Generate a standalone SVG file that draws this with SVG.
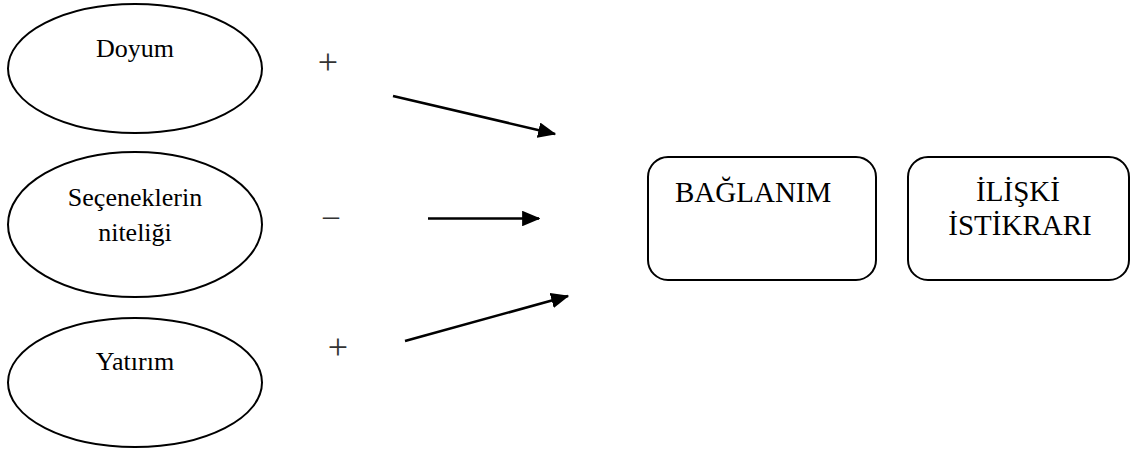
<svg xmlns="http://www.w3.org/2000/svg" width="1134" height="450" viewBox="0 0 1134 450">
<style>
.shape{fill:#fff;stroke:#000;stroke-width:2}
.t{font-family:"Liberation Serif","Times New Roman",serif;fill:#000}
.e{font-size:26px;text-anchor:middle}
.b{font-size:29px}
.sign{font-family:"Liberation Serif","Times New Roman",serif;fill:#333;text-anchor:middle}
.c{stroke:#000;stroke-width:2.6;fill:none;marker-end:url(#ah)}
</style>
<defs>
<marker id="ah" markerWidth="7" markerHeight="6" refX="6.5" refY="3" orient="auto" markerUnits="strokeWidth">
<path d="M0,0 L7,3 L0,6 Z" fill="#000"/>
</marker>
</defs>
<rect width="1134" height="450" fill="#fff"/>
<g id="doyum">
<ellipse class="shape" cx="135" cy="68.5" rx="127" ry="64.5"/>
<text class="t e" x="135" y="57">Doyum</text>
</g>
<g id="secenekler">
<ellipse class="shape" cx="135" cy="224.5" rx="127" ry="72.5"/>
<text class="t e" x="135" y="206">Seçeneklerin</text>
<text class="t e" x="135" y="241">niteliği</text>
</g>
<g id="yatirim">
<ellipse class="shape" cx="135" cy="382.5" rx="127" ry="64.5"/>
<text class="t e" x="135" y="370">Yatırım</text>
</g>
<g id="baglanim">
<rect class="shape" x="648" y="157" width="228" height="123" rx="20" ry="20"/>
<text class="t b" x="675" y="202">BAĞLANIM</text>
</g>
<g id="iliski">
<rect class="shape" x="908" y="157" width="221" height="123" rx="20" ry="20"/>
<text class="t b" x="1018" y="201" text-anchor="middle">İLİŞKİ</text>
<text class="t b" x="1020" y="235" text-anchor="middle">İSTİKRARI</text>
</g>
<g id="connectors">
<line class="c" x1="393" y1="96" x2="555" y2="134"/>
<line class="c" x1="428" y1="218.5" x2="539" y2="218.5"/>
<line class="c" x1="405" y1="341" x2="568" y2="296"/>
<text class="sign" x="328" y="74" font-size="36">+</text>
<text class="sign" x="331" y="226" font-size="32">–</text>
<text class="sign" x="338" y="359" font-size="36">+</text>
</g>
</svg>
